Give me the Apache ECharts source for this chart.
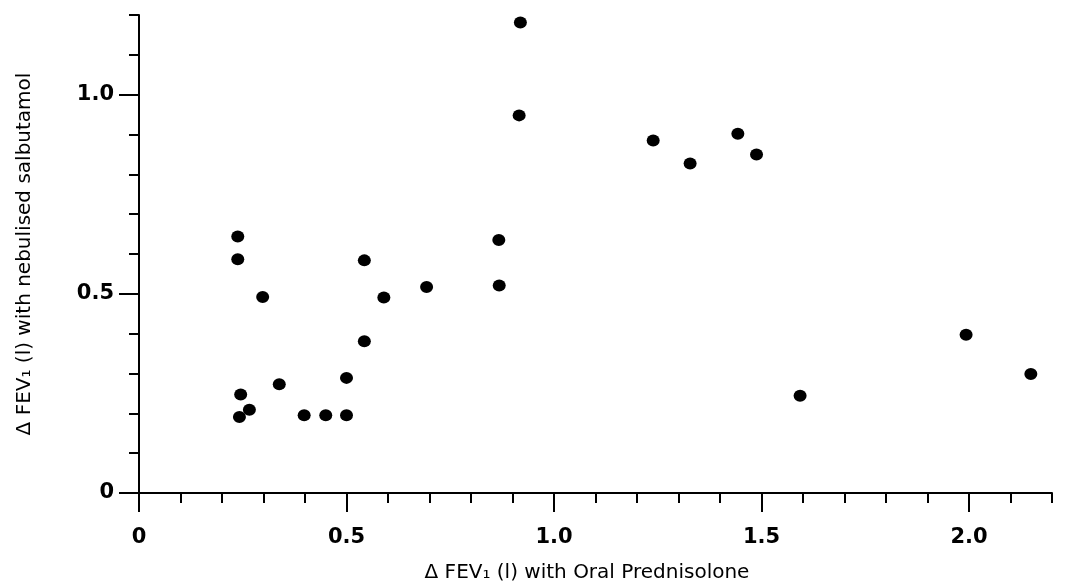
<!DOCTYPE html>
<html>
<head>
<meta charset="utf-8">
<script src="https://cdn.jsdelivr.net/npm/echarts@6/dist/echarts.min.js"></script>
<style>
html,body{margin:0;padding:0;background:#fff;}
#chart{width:1068px;height:588px;}
</style>
</head>
<body>
<div id="chart"></div>
<script>
// Δ FEV1 with oral prednisolone (x) vs with nebulised salbutamol (y)
var prednisolone = [0.238, 0.238, 0.298, 0.245, 0.266, 0.242, 0.338, 0.398, 0.450, 0.500,
                    0.500, 0.543, 0.543, 0.590, 0.693, 0.867, 0.868, 0.919, 0.916, 1.239,
                    1.328, 1.443, 1.488, 1.593, 1.993, 2.149];
var salbutamol   = [0.644, 0.587, 0.492, 0.247, 0.209, 0.191, 0.273, 0.195, 0.195, 0.195,
                    0.289, 0.381, 0.584, 0.491, 0.517, 0.635, 0.521, 1.181, 0.948, 0.885,
                    0.827, 0.902, 0.850, 0.244, 0.397, 0.299];
var xTickLabels = [0, 0.5, 1.0, 1.5, 2.0];
var yTickLabels = [0, 0.5, 1.0];
var xName = 'Δ FEV₁ (l) with Oral Prednisolone';
var yName = 'Δ FEV₁ (l) with nebulised salbutamol';

var points = prednisolone.map(function (x, i) { return [x, salbutamol[i]]; });
function fmt(v) { return Math.abs(v) < 1e-9 ? '0' : v.toFixed(1); }

var labelStyle = {
  fontFamily: 'DejaVu Sans', fontWeight: 'bold', fontSize: 21, color: '#000'
};
var nameStyle = {
  fontFamily: 'DejaVu Sans', fontSize: 20, color: '#000'
};
var tickLine = { color: '#000', width: 2 };

var chart = echarts.init(document.getElementById('chart'));
chart.setOption({
  animation: false,
  backgroundColor: '#fff',
  grid: { left: 139, right: 16, top: 15, bottom: 92 },
  xAxis: [{
    type: 'value', min: 0, max: 2.2, interval: 0.1, position: 'bottom',
    splitLine: { show: false },
    axisLine: { show: true, lineStyle: { color: '#000', width: 2 } },
    axisTick: { show: true, customValues: xTickLabels, length: 19, lineStyle: tickLine },
    axisLabel: Object.assign({ customValues: xTickLabels, margin: 34, formatter: fmt }, labelStyle),
    name: xName, nameLocation: 'middle', nameGap: 70,
    nameTextStyle: Object.assign({ padding: [0, 17, 0, 0] }, nameStyle)
  }, {
    type: 'value', min: 0, max: 2.2, interval: 0.1, position: 'bottom', offset: 0,
    splitLine: { show: false },
    axisLine: { show: false },
    axisTick: { show: true, length: 10, lineStyle: tickLine },
    axisLabel: { show: false }
  }],
  yAxis: [{
    type: 'value', min: 0, max: 1.2, interval: 0.1, position: 'left',
    splitLine: { show: false },
    axisLine: { show: true, lineStyle: { color: '#000', width: 2 } },
    axisTick: { show: true, customValues: yTickLabels, length: 20, lineStyle: tickLine },
    axisLabel: Object.assign({ customValues: yTickLabels, margin: 25, formatter: fmt }, labelStyle),
    name: yName, nameLocation: 'middle', nameGap: 104,
    nameTextStyle: nameStyle
  }, {
    type: 'value', min: 0, max: 1.2, interval: 0.1, position: 'left', offset: 0,
    splitLine: { show: false },
    axisLine: { show: false },
    axisTick: { show: true, length: 10, lineStyle: tickLine },
    axisLabel: { show: false }
  }],
  series: [{
    type: 'scatter',
    xAxisIndex: 0, yAxisIndex: 0,
    symbol: 'circle',
    symbolSize: [13, 12],
    itemStyle: { color: '#000', opacity: 1 },
    data: points
  }]
});
</script>
</body>
</html>
